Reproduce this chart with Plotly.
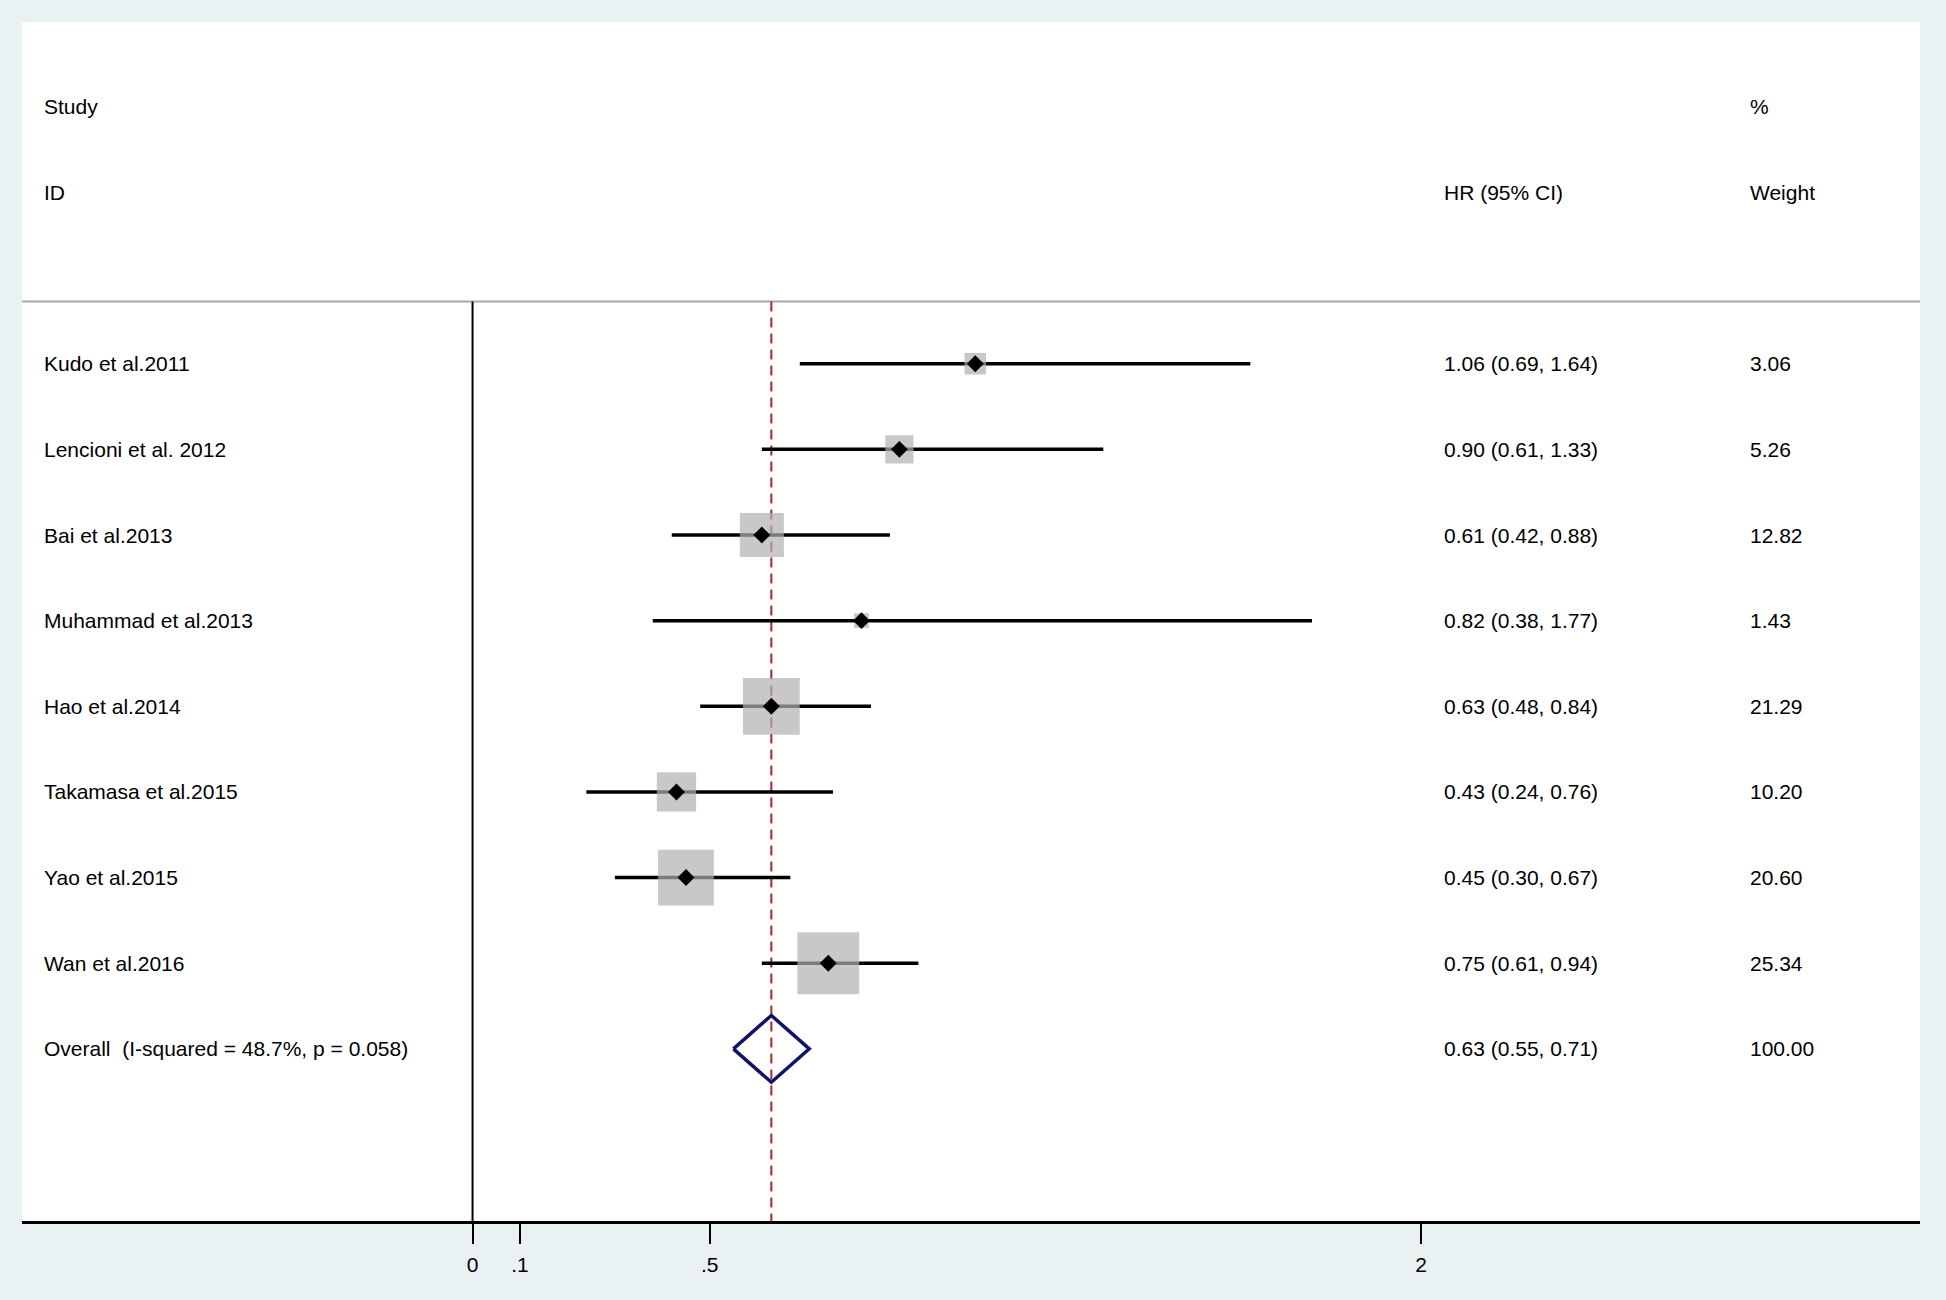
import plotly.graph_objs as go

studies = ['Kudo et al.2011', 'Lencioni et al. 2012', 'Bai et al.2013',
           'Muhammad et al.2013', 'Hao et al.2014', 'Takamasa et al.2015',
           'Yao et al.2015', 'Wan et al.2016']
hr = [1.06, 0.90, 0.61, 0.82, 0.63, 0.43, 0.45, 0.75]
ci_low = [0.69, 0.61, 0.42, 0.38, 0.48, 0.24, 0.30, 0.61]
ci_high = [1.64, 1.33, 0.88, 1.77, 0.84, 0.76, 0.67, 0.94]
weights = [3.06, 5.26, 12.82, 1.43, 21.29, 10.20, 20.60, 25.34]

overall_label = 'Overall\u00a0 (I-squared = 48.7%, p = 0.058)'
overall_hr = 0.63
overall_low = 0.55
overall_high = 0.71

tick_vals = [0, 0.1, 0.5, 2]
tick_text = ['0', '.1', '.5', '2']

FONT = 'Liberation Sans, Arial, sans-serif'
FSIZE = 21
X_RANGE = [-0.950, 3.052]
Y_RANGE = [11.01, -2.99]
SEP_Y = 0.275
COL_STUDY = -0.908
COL_HR = 2.045
COL_W = 2.689

rows = list(range(1, len(studies) + 1))
overall_row = len(studies) + 1

traces = []

# confidence intervals
for r, lo, hi in zip(rows, ci_low, ci_high):
    traces.append(
        go.Scatter(
            x=[lo, hi],
            y=[r, r],
            mode='lines',
            line=dict(color='black', width=3.5),
            hoverinfo='skip',
        ))

# weight boxes (area ~ weight)
traces.append(
    go.Scatter(
        x=hr,
        y=rows,
        mode='markers',
        marker=dict(
            symbol='square',
            size=[12.3 * w ** 0.5 for w in weights],
            color='#B0B0B0',
            line=dict(width=0),
        ),
    ))

# point estimates
traces.append(
    go.Scatter(
        x=hr,
        y=rows,
        mode='markers',
        marker=dict(symbol='diamond', size=13, color='black'),
    ))

# overall diamond
h = 0.39
traces.append(
    go.Scatter(
        x=[overall_low, overall_hr, overall_high, overall_hr, overall_low],
        y=[overall_row, overall_row - h, overall_row, overall_row + h, overall_row],
        mode='lines',
        line=dict(color='#12126B', width=3.5),
    ))

annotations = []


def label(x, y, text):
    annotations.append(dict(
        x=x, y=y, xref='x', yref='y', text=text, showarrow=False,
        xanchor='left', yanchor='middle',
        font=dict(family=FONT, size=FSIZE, color='black'),
    ))


label(COL_STUDY, -2, 'Study')
label(COL_STUDY, -1, 'ID')
label(COL_HR, -1, 'HR (95% CI)')
label(COL_W, -2, '%')
label(COL_W, -1, 'Weight')

for r, s, e, lo, hi, w in zip(rows, studies, hr, ci_low, ci_high, weights):
    label(COL_STUDY, r, s)
    label(COL_HR, r, f'{e:.2f} ({lo:.2f}, {hi:.2f})')
    label(COL_W, r, f'{w:.2f}')

label(COL_STUDY, overall_row, overall_label)
label(COL_HR, overall_row, f'{overall_hr:.2f} ({overall_low:.2f}, {overall_high:.2f})')
label(COL_W, overall_row, '100.00')

shapes = [
    dict(type='line', xref='paper', yref='y', x0=0, x1=1, y0=SEP_Y, y1=SEP_Y,
         line=dict(color='#A8A8A8', width=2), layer='below'),
    dict(type='line', xref='x', yref='y', x0=0, x1=0, y0=SEP_Y, y1=Y_RANGE[0],
         line=dict(color='black', width=2), layer='below'),
    dict(type='line', xref='x', yref='y', x0=overall_hr, x1=overall_hr,
         y0=SEP_Y, y1=Y_RANGE[0],
         line=dict(color='#A3262B', width=2, dash='10px,6px'), layer='below'),
]

fig = go.Figure(
    data=traces,
    layout=dict(
        width=1946,
        height=1300,
        margin=dict(l=22, r=26, t=22, b=79),
        paper_bgcolor='#E9F1F2',
        plot_bgcolor='white',
        showlegend=False,
        font=dict(family=FONT, size=FSIZE, color='black'),
        xaxis=dict(
            range=X_RANGE,
            tickvals=tick_vals,
            ticktext=tick_text,
            ticks='outside',
            ticklen=20,
            tickwidth=1.5,
            tickcolor='black',
            ticklabelstandoff=3,
            showline=True,
            linecolor='black',
            linewidth=3,
            showgrid=False,
            zeroline=False,
            tickfont=dict(family=FONT, size=FSIZE),
        ),
        yaxis=dict(
            range=Y_RANGE,
            showticklabels=False,
            showgrid=False,
            zeroline=False,
            ticks='',
        ),
        shapes=shapes,
        annotations=annotations,
    ))

fig.write_html('out.html', config=dict(displayModeBar=False),
               post_script="document.body.style.margin = '0';")
